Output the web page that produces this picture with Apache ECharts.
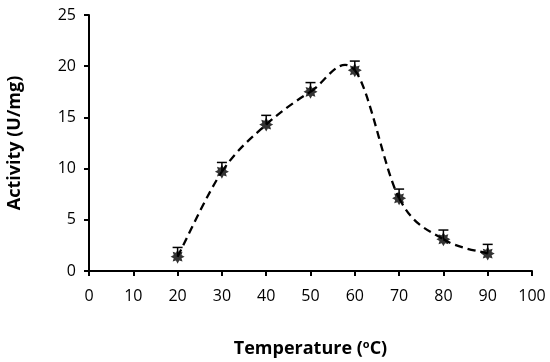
<!DOCTYPE html>
<html><head><meta charset="utf-8">
<script src="https://cdn.jsdelivr.net/npm/echarts@6/dist/echarts.min.js"></script>
<style>html,body{margin:0;padding:0;background:#fff}#c{width:550px;height:362px}</style>
</head><body><div id="c"></div>
<script>
const temps = [20, 30, 40, 50, 60, 70, 80, 90];
const activity = [1.4, 9.7, 14.3, 17.5, 19.6, 7.1, 3.1, 1.7];
const errors = [0.9, 0.9, 0.9, 0.9, 0.9, 0.9, 0.9, 0.9];
const xTicks = [0,10,20,30,40,50,60,70,80,90,100];
const yTicks = [0,5,10,15,20,25];

const FONT = '"Open Sans", "Liberation Sans", sans-serif';
const star = 'path://M50,0 L62,22 L85,15 L78,38 L100,50 L78,62 L85,85 L62,78 L50,100 L38,78 L15,85 L22,62 L0,50 L22,38 L15,15 L38,22 Z';

const pts = temps.map((t,i)=>[t,activity[i]]);

const chart = echarts.init(document.getElementById('c'), null, {renderer:'canvas'});
chart.setOption({
  animation:false,
  grid:{left:89,right:18,top:15,bottom:91,containLabel:false,outerBoundsMode:'none'},
  xAxis:{type:'value',min:xTicks[0],max:xTicks[xTicks.length-1],interval:10,
    name:'{b|Temperature (}{s|o}{b|C)}',nameLocation:'middle',nameGap:68,
    nameTextStyle:{rich:{b:{fontFamily:FONT,fontWeight:'bold',fontSize:18,color:'#000'},
      s:{fontFamily:FONT,fontWeight:'bold',fontSize:11,color:'#000',verticalAlign:'top',padding:[0,0,9,0]}}},
    axisLine:{lineStyle:{color:'#000',width:2}},
    axisTick:{show:true,length:5,lineStyle:{color:'#000',width:2}},
    axisLabel:{color:'#000',fontFamily:FONT,fontSize:16,margin:17},
    splitLine:{show:false}},
  yAxis:{type:'value',min:yTicks[0],max:yTicks[yTicks.length-1],interval:5,
    name:'Activity (U/mg)',nameLocation:'middle',nameGap:65,
    nameTextStyle:{fontFamily:FONT,fontWeight:'bold',fontSize:18,color:'#000'},
    axisLine:{show:true,lineStyle:{color:'#000',width:2}},
    axisTick:{show:true,length:5,lineStyle:{color:'#000',width:2}},
    axisLabel:{color:'#000',fontFamily:FONT,fontSize:16,margin:13},
    splitLine:{show:false}},
  series:[
    {type:'custom',z:2,data:pts,
      renderItem:function(params,api){
        const i=params.dataIndex;
        if(i>=pts.length-1) return null;
        const P=pts.map(p=>api.coord(p));
        const p0=P[Math.max(i-1,0)],p1=P[i],p2=P[i+1],p3=P[Math.min(i+2,P.length-1)];
        const k=1/6;
        return {type:'bezierCurve',shape:{x1:p1[0],y1:p1[1],x2:p2[0],y2:p2[1],
          cpx1:p1[0]+(p2[0]-p0[0])*k,cpy1:p1[1]+(p2[1]-p0[1])*k,
          cpx2:p2[0]-(p3[0]-p1[0])*k,cpy2:p2[1]-(p3[1]-p1[1])*k},
          style:{fill:null,stroke:'#000',lineWidth:2.3,lineDash:[8,5]}};
      }},
    {type:'scatter',data:pts,symbol:star,symbolSize:14,itemStyle:{color:'#000'},z:3},
    {type:'custom',z:4,data:temps.map((t,i)=>[t,activity[i],errors[i]]),
      renderItem:function(params,api){
        const x=api.value(0),y=api.value(1),e=api.value(2);
        const top=api.coord([x,y+e]),mid=api.coord([x,y]);
        const hw=5;
        return {type:'group',children:[
          {type:'line',shape:{x1:top[0],y1:top[1],x2:mid[0],y2:mid[1]},style:{stroke:'#000',lineWidth:1.5}},
          {type:'line',shape:{x1:top[0]-hw,y1:top[1],x2:top[0]+hw,y2:top[1]},style:{stroke:'#000',lineWidth:1.5}}
        ]};
      }}
  ]
});
</script></body></html>
